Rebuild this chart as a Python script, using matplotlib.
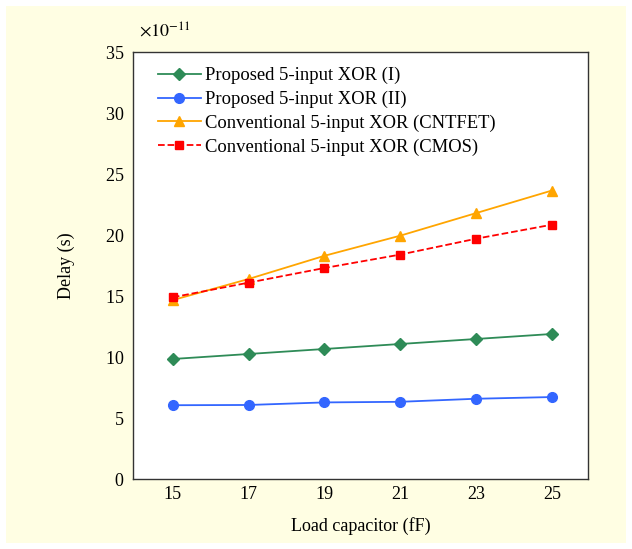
import matplotlib
matplotlib.use("Agg")
import matplotlib.pyplot as plt
from matplotlib.patches import Rectangle
from matplotlib.ticker import ScalarFormatter

plt.rcParams['font.family'] = ['Liberation Serif', 'DejaVu Serif']
plt.rcParams['mathtext.fontset'] = 'stix'

# load capacitance (fF)
load_cap = [15, 17, 19, 21, 23, 25]

# delay values (s)
xor_prop1 = [9.84e-11, 10.25e-11, 10.66e-11, 11.07e-11, 11.48e-11, 11.89e-11]
xor_prop2 = [6.05e-11, 6.07e-11, 6.28e-11, 6.33e-11, 6.58e-11, 6.72e-11]
xor_cntfet = [14.67e-11, 16.4e-11, 18.3e-11, 19.95e-11, 21.8e-11, 23.65e-11]
xor_cmos = [14.9e-11, 16.1e-11, 17.3e-11, 18.4e-11, 19.7e-11, 20.85e-11]

labels = ["Proposed 5-input XOR (I)", "Proposed 5-input XOR (II)",
          "Conventional 5-input XOR (CNTFET)", "Conventional 5-input XOR (CMOS)"]

fig = plt.figure(figsize=(6.32, 5.49), dpi=100, facecolor='white')
# yellow panel behind the chart
fig.patches.append(Rectangle((6/632, 6/549), 620/632, 537/549, transform=fig.transFigure,
                             facecolor='#fffee3', edgecolor='none', zorder=-1))

ax = fig.add_axes([0.2104, 0.1275, 0.7196, 0.7775])
ax.plot(load_cap, xor_prop1, color='#2e8b57', marker='D', markersize=6, lw=1.3, label=labels[0])
ax.plot(load_cap, xor_prop2, color='#3366ff', marker='o', markersize=7, lw=1.3, label=labels[1])
ax.plot(load_cap, xor_cntfet, color='#ffa500', marker='^', markersize=7, lw=1.3, label=labels[2])
ax.plot(load_cap, xor_cmos, color='#ff0000', marker='s', markersize=6, lw=1.3, ls='--', label=labels[3])

ax.set_xlim(13.95, 25.95)
ax.set_ylim(0, 35e-11)
ax.set_xticks(load_cap)
ax.set_yticks([i * 5e-11 for i in range(8)])

fmt = ScalarFormatter(useMathText=True)
fmt.set_powerlimits((-11, -11))
ax.yaxis.set_major_formatter(fmt)
ax.yaxis.get_offset_text().set_visible(False)
ax.text(0.013, 1.025, r"$\times 10^{-11}$", transform=ax.transAxes, fontsize=13,
        ha='left', va='bottom')

ax.tick_params(axis='y', length=0, labelsize=13, pad=6)
ax.tick_params(axis='x', length=0, labelsize=13, pad=5)
for s in ax.spines.values():
    s.set_color('#333333')
    s.set_linewidth(1.0)

ax.set_xlabel("Load capacitor (fF)", fontsize=13, labelpad=10)
ax.set_ylabel("Delay (s)", fontsize=13, labelpad=22)

ax.legend(loc='upper left', bbox_to_anchor=(0.022, 1.0), frameon=False, fontsize=13.4,
          handlelength=2.3, labelspacing=0.35, borderaxespad=0.4, borderpad=0.4,
          handletextpad=0.25)

fig.savefig("out.png", dpi=100, facecolor=fig.get_facecolor())
